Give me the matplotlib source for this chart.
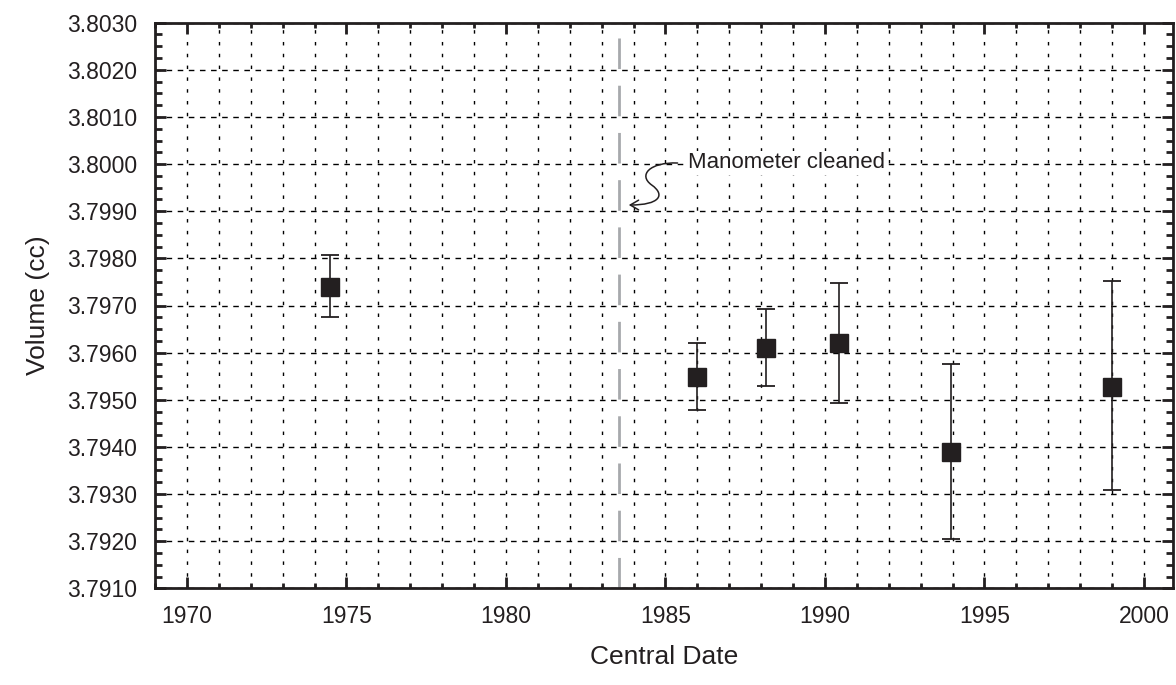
import numpy as np
import matplotlib
matplotlib.use('Agg')
from matplotlib import pyplot as plt
from matplotlib.ticker import MultipleLocator, FormatStrFormatter
from matplotlib.path import Path
from matplotlib.patches import FancyArrowPatch

plt.rcParams['font.family'] = ['Liberation Sans', 'DejaVu Sans']

# data
year = np.array([1974.5, 1986.0, 1988.15, 1990.45, 1993.95, 1999.0])
volume = np.array([3.7974, 3.79549, 3.79609, 3.7962, 3.79389, 3.79528])
err_lo = np.array([3.79675, 3.79478, 3.79529, 3.79494, 3.79204, 3.79309])
err_hi = np.array([3.79807, 3.79621, 3.79693, 3.79748, 3.79575, 3.79751])
cleaned_year = 1983.55
note = 'Manometer cleaned'

ink = '#231f20'

fig = plt.figure(figsize=(11.76, 6.85), dpi=100)
ax = fig.add_axes([155/1176, 1-588.3/685, (1172.7-155)/1176, (588.3-22.7)/685])

# grid first, under everything
ax.set_axisbelow(True)
ax.grid(which='major', axis='y', color='k', lw=1.0, ls=(0, (4, 4)))
ax.grid(which='both', axis='x', color='k', lw=1.0, ls=(0, (2.5, 6)))

# cleaning line
ax.axvline(cleaned_year, color='#a7a9ac', lw=2.0, dashes=(11, 6), zorder=2)

# points with error bars
yerr = np.vstack([volume - err_lo, err_hi - volume])
ax.errorbar(year, volume, yerr=yerr, fmt='s', ms=13.5, color=ink, mfc=ink, mec=ink,
            ecolor=ink, elinewidth=1.2, capsize=6.5, capthick=1.3, zorder=3)

# annotation with curly arrow
ax.text(1985.7, 3.80003, note, fontsize=16, color=ink, ha='left', va='center',
        bbox=dict(facecolor='white', edgecolor='none', pad=1), zorder=4)
verts = [(1985.38, 3.800023), (1984.51, 3.800044), (1984.13, 3.799768), (1984.57, 3.799556),
         (1985.01, 3.799344), (1984.82, 3.799132), (1983.85, 3.799132)]
codes = [Path.MOVETO] + [Path.CURVE4] * 6
arrow = FancyArrowPatch(path=Path(verts, codes), arrowstyle='->,head_length=6,head_width=3.5',
                        color=ink, lw=1.1, transform=ax.transData, zorder=4)
ax.add_patch(arrow)

ax.set_xlim(1969, 2000.9)
ax.set_ylim(3.7910, 3.8030)
ax.xaxis.set_major_locator(MultipleLocator(5))
ax.xaxis.set_minor_locator(MultipleLocator(1))
ax.yaxis.set_major_locator(MultipleLocator(0.001))
ax.yaxis.set_minor_locator(MultipleLocator(0.00025))
ax.yaxis.set_major_formatter(FormatStrFormatter('%.4f'))

ax.tick_params(which='both', direction='in', top=True, right=True, colors=ink,
               labelsize=16.5)
ax.tick_params(axis='y', pad=13)
ax.tick_params(axis='x', pad=12)
ax.tick_params(which='major', length=8, width=2)
ax.tick_params(axis='x', which='minor', length=3.5, width=2)
ax.tick_params(axis='y', which='minor', length=5, width=2)
for s in ax.spines.values():
    s.set_linewidth(2)
    s.set_color(ink)

ax.set_xlabel('Central Date', fontsize=19, color=ink, labelpad=12)
ax.set_ylabel('Volume (cc)', fontsize=19, color=ink, labelpad=12)

fig.savefig('out.png', dpi=100)
